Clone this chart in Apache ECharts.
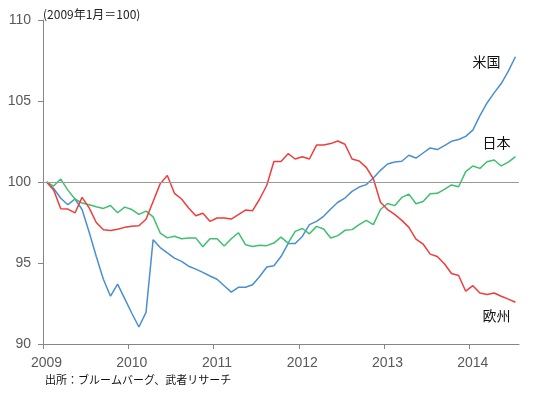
<!DOCTYPE html>
<html>
<head>
<meta charset="utf-8">
<script src="https://cdn.jsdelivr.net/npm/echarts@6/dist/echarts.min.js"></script>
<style>
    html, body { margin: 0; padding: 0; background: #fff; }
    #chart { width: 539px; height: 396px; }
</style>
</head>
<body>
<div id="chart"></div>
<script>
    // 2009年1月〜2014年7月 の月次データ (2009年1月 = 100)
    var years = [2009, 2010, 2011, 2012, 2013, 2014];
    var monthCount = 67;

    var usData = [
        100, 99.6, 99.0, 98.6, 98.95, 98.3, 96.9, 95.4, 94.0, 92.95, 93.7, 92.8,
        91.9, 91.05, 91.95, 96.44, 95.95, 95.62, 95.3, 95.1, 94.8, 94.62, 94.42, 94.2,
        94.0, 93.6, 93.2, 93.5, 93.5, 93.66, 94.17, 94.75, 94.83, 95.4, 96.2, 96.2,
        96.64, 97.37, 97.57, 97.88, 98.33, 98.75, 99.01, 99.42, 99.69, 99.84, 100.25, 100.72,
        101.11, 101.24, 101.28, 101.65, 101.48, 101.79, 102.1, 102.0, 102.25, 102.51, 102.62, 102.82,
        103.2, 104.1, 104.88, 105.5, 106.08, 106.84, 107.73
    ];
    var japanData = [
        100, 99.75, 100.18, 99.5, 98.95, 98.7, 98.6, 98.47, 98.37, 98.55, 98.1, 98.45,
        98.3, 98.0, 98.2, 97.85, 96.85, 96.55, 96.65, 96.5, 96.55, 96.55, 96.0, 96.5,
        96.5, 96.05, 96.5, 96.87, 96.13, 96.02, 96.1, 96.07, 96.23, 96.6, 96.23, 96.95,
        97.13, 96.8, 97.26, 97.1, 96.54, 96.69, 97.02, 97.06, 97.37, 97.63, 97.37, 98.3,
        98.67, 98.54, 99.05, 99.25, 98.66, 98.8, 99.27, 99.3, 99.55, 99.82, 99.71, 100.64,
        100.99, 100.84, 101.25, 101.36, 100.99, 101.23, 101.57
    ];
    var europeData = [
        100, 99.5, 98.35, 98.33, 98.09, 99.05, 98.4, 97.5, 97.05, 97.0, 97.08, 97.2,
        97.27, 97.3, 97.7, 98.8, 99.9, 100.4, 99.3, 98.95, 98.4, 97.92, 98.07, 97.57,
        97.78, 97.78, 97.71, 97.98, 98.27, 98.23, 98.95, 99.8, 101.27, 101.27, 101.75, 101.42,
        101.56, 101.42, 102.28, 102.28, 102.37, 102.53, 102.33, 101.42, 101.3, 100.9, 100.2, 98.75,
        98.3, 98.0, 97.63, 97.2, 96.48, 96.17, 95.55, 95.4, 94.95, 94.35, 94.23, 93.26,
        93.6, 93.15, 93.05, 93.15, 92.95, 92.77, 92.58
    ];
    var yTicks = [90, 95, 100, 105, 110];

    var axisColor = '#868686';
    var labelColor = '#595959';
    var cjkFont = '"Noto Sans CJK JP", sans-serif';

    // 月の中央に点を置く (月インデックス + 0.5)
    function toPoints(values) {
        return values.map(function (v, i) { return [i + 0.5, v]; });
    }

    var yearStarts = years.map(function (y, i) { return i * 12; });

    var mychart = echarts.init(document.getElementById('chart'));
    mychart.setOption({
        animation: false,
        backgroundColor: '#fff',
        title: {
            text: '(2009年1月＝100)',
            left: 38,
            top: 3,
            textStyle: { fontSize: 12, fontWeight: 'normal', color: '#222', fontFamily: cjkFont }
        },
        graphic: [{
            type: 'text',
            left: 45,
            top: 374,
            style: {
                text: '出所：ブルームバーグ、武者リサーチ',
                font: '11px ' + cjkFont,
                fill: '#111'
            }
        }],
        grid: { left: 43, right: 20, top: 20, bottom: 52 },
        xAxis: {
            type: 'value',
            min: 0,
            max: monthCount,
            interval: 12,
            splitLine: { show: false },
            axisLine: { lineStyle: { color: axisColor, width: 1 } },
            axisTick: {
                length: 5,
                lineStyle: { color: axisColor },
                customValues: yearStarts
            },
            axisLabel: {
                color: labelColor,
                fontSize: 14,
                fontFamily: 'Liberation Sans, Arial',
                margin: 12,
                padding: [0, 0, 0, 7],
                customValues: yearStarts,
                formatter: function (v) { return years[Math.round(v / 12)]; }
            }
        },
        yAxis: {
            type: 'value',
            min: yTicks[0],
            max: yTicks[yTicks.length - 1],
            interval: 5,
            splitLine: { show: false },
            axisLine: { show: true, lineStyle: { color: axisColor, width: 1 } },
            axisTick: { show: true, length: 5, lineStyle: { color: axisColor } },
            axisLabel: {
                color: labelColor,
                fontSize: 14,
                fontFamily: 'Liberation Sans, Arial',
                margin: 12
            }
        },
        series: [
            {
                name: '米国',
                type: 'line',
                data: toPoints(usData),
                showSymbol: false,
                lineStyle: { color: '#4a8fd0', width: 1.5 },
                endLabel: {
                    show: true,
                    formatter: '{a}',
                    offset: [-51, 5],
                    fontSize: 14,
                    color: '#111',
                    fontFamily: cjkFont
                },
                markLine: {
                    silent: true,
                    symbol: 'none',
                    label: { show: false },
                    lineStyle: { color: '#9a9a9a', width: 1, type: 'solid' },
                    data: [{ yAxis: 100 }]
                }
            },
            {
                name: '日本',
                type: 'line',
                data: toPoints(japanData),
                showSymbol: false,
                lineStyle: { color: '#3fbf6f', width: 1.5 },
                endLabel: {
                    show: true,
                    formatter: '{a}',
                    offset: [-41, -14],
                    fontSize: 14,
                    color: '#111',
                    fontFamily: cjkFont
                }
            },
            {
                name: '欧州',
                type: 'line',
                data: toPoints(europeData),
                showSymbol: false,
                lineStyle: { color: '#f03c3c', width: 1.5 },
                endLabel: {
                    show: true,
                    formatter: '{a}',
                    offset: [-41, 13],
                    fontSize: 14,
                    color: '#111',
                    fontFamily: cjkFont
                }
            }
        ]
    });
</script>
</body>
</html>
